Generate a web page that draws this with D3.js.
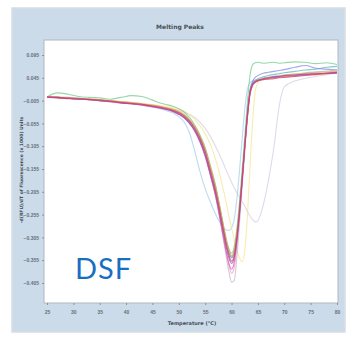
<!DOCTYPE html>
<html>
<head>
<meta charset="utf-8">
<script src="https://cdn.jsdelivr.net/npm/d3@7"></script>
<style>
  html, body { margin: 0; padding: 0; background: #fff; }
  svg { display: block; font-family: "DejaVu Sans", sans-serif; }
</style>
</head>
<body>
<div id="chart"></div>
<script>
// temperatures (°C) shared by every curve
const temps = [25,27,29,31,33,35,37,39,41,43,45,47,49,51,52,53,54,55,56,57,57.5,58,58.5,59,59.5,60,60.5,61,61.5,62,62.5,63,63.5,64,64.5,65,65.5,66,67,68,69,70,72,74,76,78,80];

// -dF/dT melt curves, one per well
const lavender = [0.002,0.002,0.000,-0.001,-0.003,-0.004,-0.006,-0.008,-0.010,-0.012,-0.015,-0.019,-0.024,-0.030,-0.035,-0.042,-0.052,-0.066,-0.084,-0.106,-0.118,-0.131,-0.144,-0.158,-0.171,-0.184,-0.196,-0.207,-0.217,-0.226,-0.236,-0.248,-0.258,-0.266,-0.271,-0.268,-0.255,-0.235,-0.180,-0.110,-0.020,0.025,0.038,0.044,0.048,0.052,0.055];
const lightBlue = [0.002,0.001,0.000,-0.002,-0.003,-0.005,-0.007,-0.010,-0.012,-0.015,-0.019,-0.025,-0.033,-0.052,-0.075,-0.115,-0.160,-0.198,-0.228,-0.255,-0.266,-0.276,-0.284,-0.289,-0.290,-0.284,-0.266,-0.222,-0.160,-0.090,-0.025,0.020,0.034,0.038,0.040,0.042,0.043,0.044,0.046,0.048,0.050,0.051,0.053,0.056,0.058,0.060,0.062];
const yellow = [0.003,0.002,0.001,0.000,-0.002,-0.003,-0.005,-0.007,-0.009,-0.011,-0.014,-0.017,-0.021,-0.028,-0.036,-0.046,-0.060,-0.078,-0.102,-0.135,-0.155,-0.178,-0.203,-0.230,-0.258,-0.285,-0.310,-0.333,-0.350,-0.358,-0.335,-0.260,-0.150,-0.050,0.015,0.035,0.041,0.044,0.046,0.048,0.049,0.050,0.052,0.054,0.055,0.057,0.058];
const gray = [0.002,0.001,0.000,-0.002,-0.003,-0.005,-0.007,-0.009,-0.012,-0.014,-0.018,-0.022,-0.028,-0.040,-0.052,-0.068,-0.092,-0.124,-0.168,-0.216,-0.246,-0.279,-0.313,-0.348,-0.380,-0.403,-0.400,-0.350,-0.275,-0.195,-0.118,-0.046,0.008,0.028,0.035,0.038,0.040,0.041,0.043,0.044,0.046,0.047,0.049,0.051,0.053,0.055,0.058];
const green = [0.003,0.012,0.009,0.004,0.002,0.001,-0.002,0.002,0.006,0.004,-0.004,-0.012,-0.018,-0.030,-0.042,-0.058,-0.080,-0.108,-0.148,-0.192,-0.220,-0.250,-0.280,-0.308,-0.330,-0.340,-0.326,-0.286,-0.228,-0.158,-0.085,-0.010,0.050,0.074,0.078,0.079,0.078,0.077,0.078,0.079,0.077,0.078,0.080,0.079,0.076,0.078,0.074];
const teal = [0.003,0.002,0.000,-0.002,-0.003,-0.004,-0.006,-0.009,-0.011,-0.013,-0.016,-0.020,-0.026,-0.037,-0.048,-0.063,-0.085,-0.114,-0.155,-0.199,-0.226,-0.256,-0.286,-0.314,-0.336,-0.348,-0.336,-0.298,-0.243,-0.175,-0.103,-0.035,0.016,0.034,0.040,0.043,0.045,0.047,0.050,0.052,0.054,0.056,0.059,0.062,0.064,0.068,0.070];
const blueViolet = [0.003,0.002,0.001,-0.001,-0.002,-0.004,-0.006,-0.008,-0.011,-0.013,-0.016,-0.020,-0.026,-0.038,-0.049,-0.064,-0.086,-0.115,-0.156,-0.200,-0.228,-0.258,-0.288,-0.317,-0.339,-0.350,-0.338,-0.300,-0.245,-0.176,-0.103,-0.033,0.018,0.038,0.046,0.050,0.053,0.055,0.057,0.059,0.061,0.063,0.068,0.072,0.066,0.064,0.062];
const orange = [0.004,0.003,0.002,0.000,-0.001,-0.003,-0.005,-0.007,-0.009,-0.012,-0.015,-0.019,-0.024,-0.035,-0.046,-0.061,-0.082,-0.110,-0.150,-0.195,-0.222,-0.252,-0.282,-0.311,-0.333,-0.345,-0.335,-0.298,-0.244,-0.177,-0.106,-0.040,0.010,0.030,0.037,0.040,0.042,0.044,0.046,0.048,0.049,0.051,0.053,0.055,0.057,0.058,0.060];
const pink = [0.003,0.002,0.000,-0.001,-0.002,-0.004,-0.006,-0.009,-0.011,-0.014,-0.017,-0.021,-0.028,-0.041,-0.053,-0.069,-0.093,-0.125,-0.168,-0.214,-0.243,-0.275,-0.308,-0.340,-0.367,-0.384,-0.372,-0.326,-0.262,-0.188,-0.112,-0.042,0.011,0.030,0.036,0.039,0.041,0.042,0.044,0.045,0.047,0.048,0.050,0.052,0.054,0.055,0.057];
const magenta = [0.004,0.002,0.001,0.000,-0.003,-0.005,-0.008,-0.010,-0.012,-0.015,-0.019,-0.023,-0.030,-0.043,-0.055,-0.072,-0.096,-0.128,-0.170,-0.216,-0.245,-0.276,-0.307,-0.337,-0.362,-0.375,-0.360,-0.316,-0.256,-0.184,-0.110,-0.040,0.012,0.030,0.036,0.039,0.040,0.042,0.044,0.046,0.047,0.049,0.050,0.052,0.053,0.055,0.056];
const purple = [0.002,0.002,-0.001,-0.002,-0.002,-0.005,-0.006,-0.010,-0.012,-0.013,-0.018,-0.022,-0.029,-0.042,-0.054,-0.070,-0.093,-0.124,-0.166,-0.210,-0.238,-0.268,-0.298,-0.327,-0.350,-0.362,-0.350,-0.310,-0.252,-0.180,-0.105,-0.036,0.014,0.032,0.037,0.040,0.041,0.043,0.045,0.047,0.048,0.050,0.051,0.053,0.054,0.055,0.057];
const red = [0.003,0.001,0.000,-0.001,-0.003,-0.004,-0.007,-0.009,-0.011,-0.014,-0.017,-0.021,-0.027,-0.039,-0.050,-0.066,-0.088,-0.118,-0.160,-0.205,-0.232,-0.262,-0.292,-0.321,-0.344,-0.357,-0.345,-0.306,-0.250,-0.181,-0.108,-0.041,0.010,0.029,0.035,0.038,0.040,0.041,0.042,0.043,0.045,0.046,0.048,0.050,0.052,0.054,0.055];

const xTicks = [25,30,35,40,45,50,55,60,65,70,75,80];
const yTicks = [0.095,0.045,-0.005,-0.055,-0.105,-0.155,-0.205,-0.255,-0.305,-0.355,-0.405];

// draw order: faint curves first, main cluster on top
const series = [
  { values: lavender, color: "#d4cde0" },
  { values: lightBlue, color: "#a6cdec" },
  { values: yellow, color: "#f5e596" },
  { values: gray, color: "#bcbcc4" },
  { values: green, color: "#72cc8a" },
  { values: teal, color: "#5cb9be" },
  { values: blueViolet, color: "#8a87e4" },
  { values: orange, color: "#f2a24e" },
  { values: pink, color: "#f39acf" },
  { values: magenta, color: "#d955c6" },
  { values: purple, color: "#8a4fa8" },
  { values: red, color: "#d9434a" }
];

const W = 349, H = 337;
const plot = { left: 44, top: 40, right: 338, bottom: 303 };

const svg = d3.select("#chart").append("svg")
  .attr("width", W)
  .attr("height", H);

svg.append("rect").attr("width", W).attr("height", H).attr("fill", "#fff");

// blue-gray panel behind the chart
svg.append("rect")
  .attr("x", 12).attr("y", 8)
  .attr("width", 333).attr("height", 324)
  .attr("fill", "#cbdbea")
  .attr("stroke", "#d9dde2")
  .attr("stroke-width", 1.5);

svg.append("rect")
  .attr("x", plot.left).attr("y", plot.top)
  .attr("width", plot.right - plot.left).attr("height", plot.bottom - plot.top)
  .attr("fill", "#fff")
  .attr("stroke", "#b0b8c0")
  .attr("stroke-width", 1);

const x = d3.scaleLinear().domain([25, 80]).range([47, 337]);
const y = d3.scaleLinear().domain([-0.405, 0.095]).range([283, 55]);

svg.append("defs").append("clipPath").attr("id", "plotClip")
  .append("rect")
  .attr("x", plot.left).attr("y", plot.top)
  .attr("width", plot.right - plot.left).attr("height", plot.bottom - plot.top);

const line = d3.line()
  .x((d, i) => x(temps[i]))
  .y(d => y(d))
  .curve(d3.curveMonotoneX);

svg.append("g")
  .attr("clip-path", "url(#plotClip)")
  .selectAll("path")
  .data(series)
  .join("path")
  .attr("d", d => line(d.values))
  .attr("fill", "none")
  .attr("stroke", d => d.color)
  .attr("stroke-width", 1.1)
  .attr("stroke-opacity", 0.75);

// axes
const yAxis = svg.append("g")
  .attr("transform", `translate(${plot.left},0)`)
  .call(d3.axisLeft(y).tickValues(yTicks).tickSize(2).tickFormat(d3.format(".3f")));

const xAxis = svg.append("g")
  .attr("transform", `translate(0,${plot.bottom})`)
  .call(d3.axisBottom(x).tickValues(xTicks).tickSize(2).tickFormat(d3.format("d")));

[xAxis, yAxis].forEach(a => {
  a.select(".domain").remove();
  a.selectAll("line").attr("stroke", "#8a939c");
  a.selectAll("text").attr("fill", "#6a7078").style("font-size", "5px").style("font-weight", "bold");
});
xAxis.selectAll("text").attr("dy", "1.1em");

svg.append("text")
  .attr("x", 180).attr("y", 29)
  .attr("text-anchor", "middle")
  .attr("fill", "#4a4f55")
  .style("font-size", "6px")
  .style("font-weight", "bold")
  .text("Melting Peaks");

svg.append("text")
  .attr("x", 192).attr("y", 325)
  .attr("text-anchor", "middle")
  .attr("fill", "#4a4f55")
  .style("font-size", "5px")
  .style("font-weight", "bold")
  .text("Temperature (°C)");

svg.append("text")
  .attr("transform", "translate(23,170) rotate(-90)")
  .attr("text-anchor", "middle")
  .attr("fill", "#4a4f55")
  .style("font-size", "4.5px")
  .style("font-weight", "bold")
  .text("-d(RFU)/dT of Fluorescence (x 1000) Units");

svg.append("text")
  .attr("x", 75).attr("y", 279)
  .attr("fill", "#1a6ebf")
  .style("font-family", "Lato, 'Open Sans', sans-serif")
  .style("font-size", "29px")
  .style("letter-spacing", "1px")
  .text("DSF");
</script>
</body>
</html>
